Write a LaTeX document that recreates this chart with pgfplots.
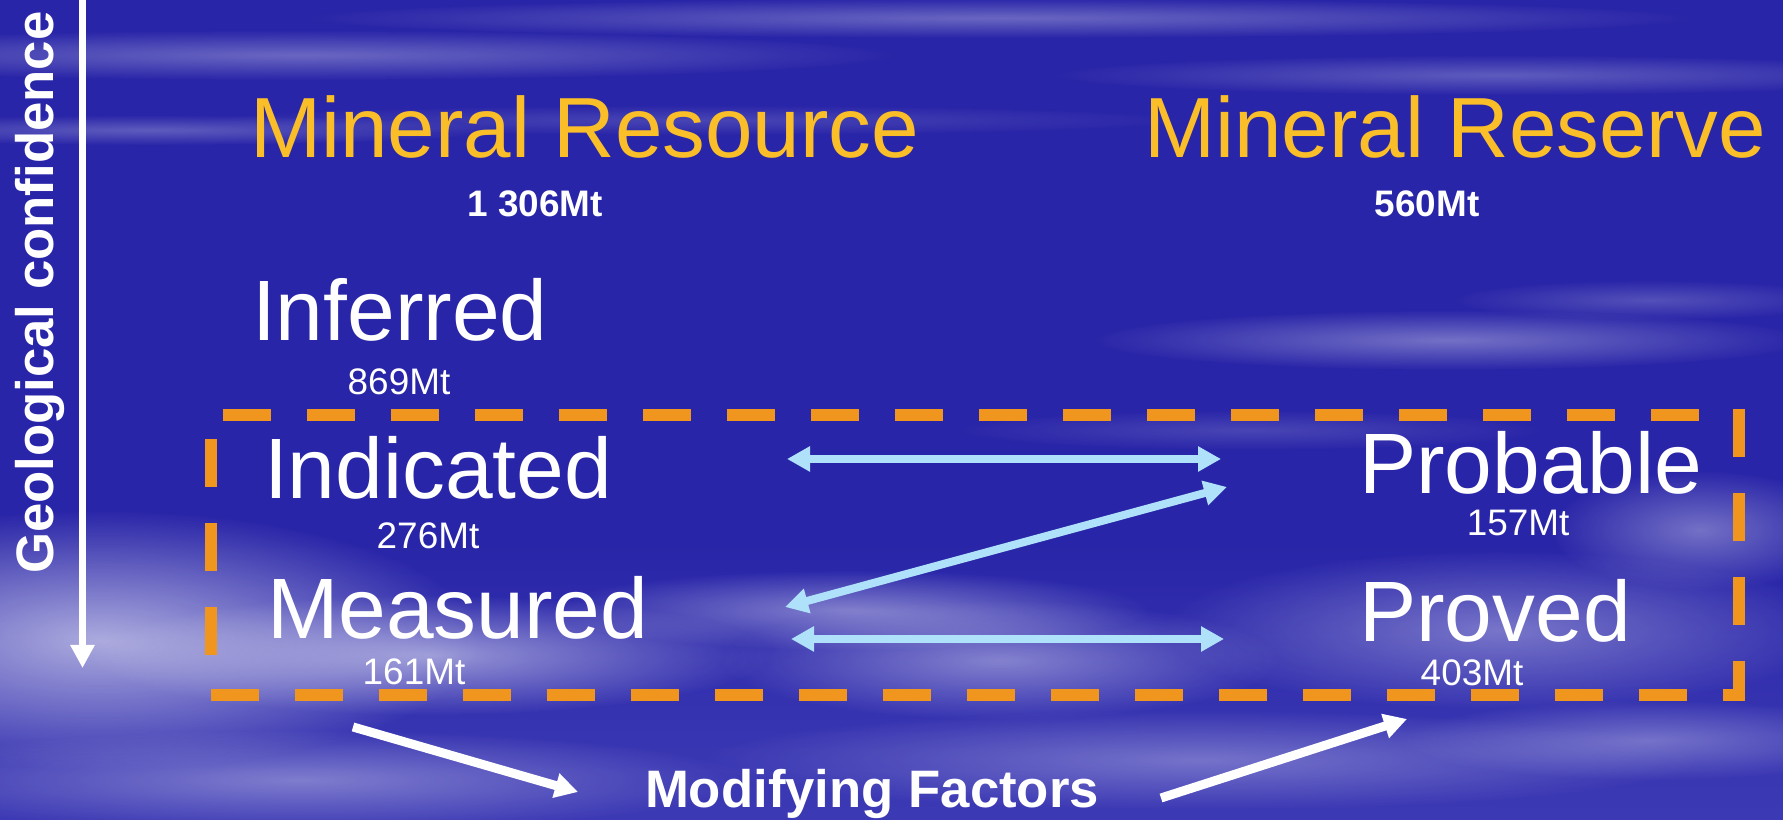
\documentclass[border=0pt]{standalone}
\usepackage{fontspec}
\setmainfont{Liberation Sans}
\usepackage{pgfplots}
\pgfplotsset{compat=1.18}
\usetikzlibrary{arrows.meta,fadings}

\tikzfading[name=fade out, inner color=transparent!0, outer color=transparent!100]

\definecolor{bgtop}{RGB}{66,64,186}
\definecolor{bgmid}{RGB}{41,37,168}
\definecolor{bglow}{RGB}{56,53,178}
\definecolor{bgbot}{RGB}{80,78,192}
\definecolor{gold}{RGB}{250,190,40}
\definecolor{dashorange}{RGB}{240,150,30}
\definecolor{lightarrow}{RGB}{175,225,250}

\pgfdeclareverticalshading{sky}{100bp}{%
  color(0bp)=(bgbot); color(30bp)=(bglow); color(42bp)=(bgmid);
  color(84bp)=(bgmid); color(92bp)=(bgtop); color(100bp)=(bgtop)}

\newcommand{\cloud}[5]{%
  \fill[white, opacity=#5, path fading=fade out]
    (axis cs:#1,#2) ellipse [x radius=#3mm, y radius=#4mm];}

\begin{document}
\begin{tikzpicture}
\begin{axis}[
    scale only axis,
    width=178.3mm, height=82mm,
    xmin=0, xmax=1783, ymin=0, ymax=820,
    y dir=reverse,
    hide axis,
    clip=true,
]
% background sky
\fill[shading=sky] (axis cs:0,0) rectangle (axis cs:1783,820);
% streaks and clouds
\cloud{300}{55}{60}{2.5}{0.3}
\cloud{1000}{18}{70}{2}{0.3}
\cloud{1500}{75}{45}{2}{0.25}
\cloud{150}{130}{35}{1.5}{0.25}
\cloud{700}{120}{50}{1.5}{0.15}
\cloud{1450}{340}{36}{3}{0.35}
\cloud{1650}{300}{20}{2}{0.2}
\cloud{100}{640}{38}{13}{0.6}
\cloud{430}{655}{34}{6}{0.5}
\cloud{850}{610}{30}{4}{0.4}
\cloud{1000}{660}{28}{6}{0.4}
\cloud{1500}{630}{34}{8}{0.35}
\cloud{1700}{530}{15}{6}{0.35}
\cloud{300}{780}{45}{5}{0.35}
\cloud{1200}{760}{50}{5}{0.3}
\cloud{1650}{740}{25}{4}{0.3}
\cloud{1250}{430}{30}{2}{0.15}

% dashed frame
\addplot[dashorange, line width=1.2mm, line cap=butt, dash pattern=on 4.8mm off 3.6mm]
  coordinates {(223,415) (1700,415)};
\addplot[dashorange, line width=1.2mm, line cap=butt, dash pattern=on 4.8mm off 3.6mm]
  coordinates {(1739,409) (1739,701)};
\addplot[dashorange, line width=1.2mm, line cap=butt, dash pattern=on 4.8mm off 3.6mm]
  coordinates {(211,695) (1745,695)};
\addplot[dashorange, line width=1.2mm, line cap=butt, dash pattern=on 4.8mm off 3.6mm]
  coordinates {(211,439) (211,689)};

% geological confidence arrow
\addplot[white, line width=0.7mm, -{Triangle[length=2.3mm,width=2.3mm]}]
  coordinates {(82.5,0) (82.5,668)};

% conversion arrows
\addplot[lightarrow, line width=0.8mm,
  {Triangle[length=2.3mm,width=2.4mm]}-{Triangle[length=2.3mm,width=2.4mm]}]
  coordinates {(787,459) (1221,459)};
\addplot[lightarrow, line width=0.8mm,
  {Triangle[length=2.3mm,width=2.4mm]}-{Triangle[length=2.3mm,width=2.4mm]}]
  coordinates {(785,607) (1227,487)};
\addplot[lightarrow, line width=0.8mm,
  {Triangle[length=2.3mm,width=2.4mm]}-{Triangle[length=2.3mm,width=2.4mm]}]
  coordinates {(791,639) (1224,639)};

% modifying factors arrows
\addplot[white, line width=0.9mm, -{Triangle[length=2.3mm,width=2.4mm]}]
  coordinates {(353,727) (578,792)};
\addplot[white, line width=0.9mm, -{Triangle[length=2.3mm,width=2.4mm]}]
  coordinates {(1161,798) (1407,719)};

% labels
\begin{scope}[every node/.style={inner sep=0pt, outer sep=0pt}]
\node[anchor=base west, rotate=90, text=white, font=\fontsize{15}{18}\selectfont\bfseries]
  at (axis cs:53,574) {Geological confidence};

\node[anchor=base west, text=gold, font=\fontsize{24.3}{28}\selectfont] at (axis cs:250,158) {Mineral Resource};
\node[anchor=base west, text=gold, font=\fontsize{24.3}{28}\selectfont] at (axis cs:1144,158) {Mineral Reserve};
\node[anchor=base, text=white, font=\fontsize{10.5}{12}\selectfont\bfseries] at (axis cs:535,217) {1 306Mt};
\node[anchor=base, text=white, font=\fontsize{10.5}{12}\selectfont\bfseries] at (axis cs:1427,217) {560Mt};

\node[anchor=base west, text=white, font=\fontsize{24.4}{28}\selectfont] at (axis cs:252,341) {Inferred};
\node[anchor=base, text=white, font=\fontsize{10.5}{12}\selectfont] at (axis cs:399,395) {869Mt};
\node[anchor=base west, text=white, font=\fontsize{24.4}{28}\selectfont] at (axis cs:264,499) {Indicated};
\node[anchor=base, text=white, font=\fontsize{10.5}{12}\selectfont] at (axis cs:428,549) {276Mt};
\node[anchor=base west, text=white, font=\fontsize{24.4}{28}\selectfont] at (axis cs:267,639) {Measured};
\node[anchor=base, text=white, font=\fontsize{10.5}{12}\selectfont] at (axis cs:414,685) {161Mt};

\node[anchor=base west, text=white, font=\fontsize{24.4}{28}\selectfont] at (axis cs:1359,494) {Probable};
\node[anchor=base, text=white, font=\fontsize{10.5}{12}\selectfont] at (axis cs:1518,536) {157Mt};
\node[anchor=base west, text=white, font=\fontsize{24.4}{28}\selectfont] at (axis cs:1359,642) {Proved};
\node[anchor=base, text=white, font=\fontsize{10.5}{12}\selectfont] at (axis cs:1472,686) {403Mt};

\node[anchor=base west, text=white, font=\fontsize{15}{18}\selectfont\bfseries] at (axis cs:645,808) {Modifying Factors};
\end{scope}
\end{axis}
\end{tikzpicture}
\end{document}
